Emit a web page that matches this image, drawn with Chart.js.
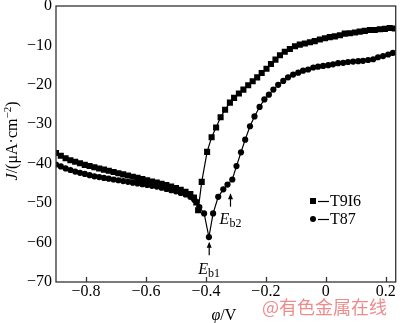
<!DOCTYPE html>
<html>
<head>
<meta charset="utf-8">
<script src="https://cdn.jsdelivr.net/npm/chart.js@4"></script>
<style>
  body { margin: 0; background: #fff; }
</style>
</head>
<body>
<canvas id="chart" width="400" height="323"></canvas>
<script>
const xTicks = [-0.8, -0.6, -0.4, -0.2, 0, 0.2];
const yTicks = [0, -10, -20, -30, -40, -50, -60, -70];

// polarisation curve of T9I6 (phi in V, J in uA/cm2)
const t9i6Phi = [
  -0.900, -0.884, -0.868, -0.852, -0.836, -0.820, -0.804, -0.788, -0.772, -0.756,
  -0.740, -0.724, -0.708, -0.692, -0.676, -0.660, -0.644, -0.628, -0.612, -0.596,
  -0.580, -0.564, -0.548, -0.532, -0.516, -0.500, -0.484, -0.468, -0.452, -0.440,
  -0.432, -0.426, -0.414, -0.396, -0.381, -0.366, -0.351, -0.336, -0.320, -0.306,
  -0.290, -0.275, -0.259, -0.244, -0.229, -0.214, -0.198, -0.183, -0.168, -0.153,
  -0.137, -0.120, -0.103, -0.087, -0.070, -0.053, -0.037, -0.020, -0.003, 0.013,
  0.030, 0.047, 0.063, 0.080, 0.097, 0.113, 0.130, 0.147, 0.163, 0.180,
  0.197, 0.213, 0.230
];
const t9i6J = [
  -37.3, -38.0, -38.6, -39.1, -39.5, -39.9, -40.3, -40.6, -40.9, -41.2,
  -41.5, -41.8, -42.1, -42.4, -42.7, -43.0, -43.3, -43.6, -43.9, -44.2,
  -44.5, -44.8, -45.1, -45.4, -45.8, -46.2, -46.6, -47.1, -47.7, -48.6,
  -49.8, -51.8, -44.6, -37.0, -33.3, -30.8, -28.2, -26.3, -24.5, -23.3,
  -22.2, -21.2, -20.1, -19.1, -18.1, -17.0, -15.9, -14.7, -13.6, -12.5,
  -11.6, -10.9, -10.2, -9.8, -9.5, -9.2, -8.9, -8.5, -8.2, -7.9,
  -7.7, -7.4, -7.0, -6.9, -6.7, -6.5, -6.3, -6.1, -6.1, -5.9,
  -5.8, -5.6, -5.7
];

// polarisation curve of T87
const t87Phi = [
  -0.900, -0.884, -0.868, -0.852, -0.836, -0.820, -0.804, -0.788, -0.772, -0.756,
  -0.740, -0.724, -0.708, -0.692, -0.676, -0.660, -0.644, -0.628, -0.612, -0.596,
  -0.580, -0.564, -0.548, -0.532, -0.516, -0.500, -0.484, -0.468, -0.452, -0.438,
  -0.422, -0.406, -0.390, -0.376, -0.359, -0.342, -0.328, -0.312, -0.298, -0.283,
  -0.269, -0.253, -0.238, -0.221, -0.205, -0.190, -0.175, -0.159, -0.142, -0.126,
  -0.109, -0.092, -0.076, -0.059, -0.042, -0.026, -0.009, 0.008, 0.024, 0.041,
  0.058, 0.074, 0.091, 0.108, 0.124, 0.141, 0.158, 0.174, 0.191, 0.208,
  0.224
];
const t87J = [
  -40.2, -40.7, -41.2, -41.6, -42.0, -42.3, -42.6, -42.9, -43.2, -43.4,
  -43.6, -43.8, -44.0, -44.2, -44.4, -44.6, -44.8, -45.0, -45.2, -45.4,
  -45.6, -45.8, -46.1, -46.4, -46.7, -47.0, -47.4, -47.8, -48.4, -49.2,
  -51.0, -52.6, -58.6, -52.6, -48.4, -46.5, -45.3, -44.0, -40.6, -37.1,
  -33.9, -30.5, -28.0, -25.6, -23.7, -22.5, -21.2, -20.0, -19.0, -18.1,
  -17.4, -16.9, -16.4, -16.1, -15.6, -15.4, -15.2, -15.0, -14.8, -14.5,
  -14.4, -14.2, -14.1, -14.0, -13.9, -13.7, -13.5, -13.0, -12.7, -12.3,
  -11.9
];

// breakdown potentials Eb1 / Eb2: arrow x, arrow tip, arrow tail, label baseline
const ebNames = ['b1', 'b2'];
const ebPhi = [-0.389, -0.318];
const ebTipJ = [-59.8, -47.5];
const ebTailJ = [-63.2, -50.9];
const ebTextJ = [-68.0, -55.2];

const serif = "'Liberation Serif', 'Times New Roman', serif";
const pts = (xs, ys) => xs.map((v, i) => ({ x: v, y: ys[i] }));
const minus = s => s.replace('-', '\u2212');

function drawArrow(ctx, px, y0, y1) {
  ctx.beginPath();
  ctx.moveTo(px, y1);
  ctx.lineTo(px, y0 + 5);
  ctx.stroke();
  ctx.beginPath();
  ctx.moveTo(px, y0);
  ctx.lineTo(px - 2.5, y0 + 6);
  ctx.lineTo(px + 2.5, y0 + 6);
  ctx.closePath();
  ctx.fill();
}

// E with subscript, centred on cx
function drawE(ctx, sub, cx, base) {
  ctx.font = 'italic 16px ' + serif;
  const wE = ctx.measureText('E').width;
  ctx.font = '12px ' + serif;
  const wS = ctx.measureText(sub).width;
  const left = cx - (wE + wS) / 2;
  ctx.textAlign = 'left';
  ctx.textBaseline = 'alphabetic';
  ctx.font = 'italic 16px ' + serif;
  ctx.fillText('E', left, base);
  ctx.font = '12px ' + serif;
  ctx.fillText(sub, left + wE, base + 3);
}

const decor = {
  id: 'decor',
  afterDraw(chart) {
    const { ctx, chartArea: a, scales: { x, y } } = chart;
    ctx.save();
    ctx.strokeStyle = '#333';
    ctx.fillStyle = '#000';
    ctx.lineWidth = 1.3;
    ctx.strokeRect(a.left, a.top, a.right - a.left, a.bottom - a.top);

    // inward ticks on the potential axis
    xTicks.forEach(v => {
      const px = Math.round(x.getPixelForValue(v)) + 0.5;
      ctx.beginPath();
      ctx.moveTo(px, a.bottom);
      ctx.lineTo(px, a.bottom - 5);
      ctx.stroke();
    });

    // breakdown arrows and labels
    ctx.strokeStyle = '#000';
    ctx.lineWidth = 1.2;
    ebNames.forEach((n, i) => {
      const px = x.getPixelForValue(ebPhi[i]);
      drawArrow(ctx, px, y.getPixelForValue(ebTipJ[i]), y.getPixelForValue(ebTailJ[i]));
      drawE(ctx, n, px, y.getPixelForValue(ebTextJ[i]));
    });

    // legend
    const lx = 313, rows = [201, 219], names = ['T9I6', 'T87'];
    rows.forEach((ry, i) => {
      ctx.fillStyle = '#000';
      if (i === 0) {
        ctx.fillRect(lx - 3, ry - 3, 6, 6);
      } else {
        ctx.beginPath();
        ctx.arc(lx, ry, 3, 0, Math.PI * 2);
        ctx.fill();
      }
      ctx.beginPath();
      ctx.moveTo(lx + 5, ry + 0.5);
      ctx.lineTo(lx + 16, ry + 0.5);
      ctx.stroke();
      ctx.font = '16px ' + serif;
      ctx.textAlign = 'left';
      ctx.textBaseline = 'middle';
      ctx.fillText(names[i], lx + 17, ry + 1);
    });

    // axis titles
    ctx.textBaseline = 'alphabetic';
    ctx.font = 'italic 16px ' + serif;
    const wPhi = ctx.measureText('\u03c6').width;
    ctx.font = '16px ' + serif;
    const wV = ctx.measureText('/V').width;
    const tx = (a.left + a.right) / 2 - (wPhi + wV) / 2 - 2;
    ctx.font = 'italic 16px ' + serif;
    ctx.fillText('\u03c6', tx, 320);
    ctx.font = '16px ' + serif;
    ctx.fillText('/V', tx + wPhi, 320);

    const parts = [
      ['J', 'italic 16px ', 0],
      ['/(\u03bcA\u00b7cm', '16px ', 0],
      ['\u22122', '11px ', -6],
      [')', '16px ', 0]
    ];
    let total = 0;
    parts.forEach(p => { ctx.font = p[1] + serif; total += ctx.measureText(p[0]).width; });
    ctx.translate(17, 141);
    ctx.rotate(-Math.PI / 2);
    let cx = -total / 2;
    parts.forEach(p => {
      ctx.font = p[1] + serif;
      ctx.fillText(p[0], cx, p[2]);
      cx += ctx.measureText(p[0]).width;
    });
    ctx.setTransform(1, 0, 0, 1, 0, 0);

    // site mark
    ctx.font = "18px 'Noto Sans CJK SC', sans-serif";
    ctx.fillStyle = 'rgba(236, 128, 128, 0.9)';
    ctx.textAlign = 'left';
    ctx.fillText('@有色金属在线', 262, 314);
    ctx.restore();
  }
};

new Chart(document.getElementById('chart').getContext('2d'), {
  type: 'line',
  data: {
    datasets: [
      {
        label: 'T9I6',
        data: pts(t9i6Phi, t9i6J),
        borderColor: '#000',
        backgroundColor: '#000',
        borderWidth: 1.2,
        pointStyle: 'rect',
        pointRadius: 4.3,
        pointBorderWidth: 0,
        tension: 0
      },
      {
        label: 'T87',
        data: pts(t87Phi, t87J),
        borderColor: '#000',
        backgroundColor: '#000',
        borderWidth: 1.2,
        pointStyle: 'circle',
        pointRadius: 3.1,
        pointBorderWidth: 0,
        tension: 0
      }
    ]
  },
  options: {
    responsive: false,
    animation: false,
    devicePixelRatio: 1,
    layout: { padding: { top: 6, right: 3, left: 0, bottom: 0 } },
    plugins: { legend: { display: false }, tooltip: { enabled: false } },
    scales: {
      x: {
        type: 'linear',
        min: -0.9,
        max: 0.233,
        grid: { display: false, drawTicks: false },
        border: { display: false },
        afterBuildTicks: s => { s.ticks = xTicks.map(v => ({ value: v })); },
        afterFit: s => { s.height = 41; s.paddingLeft = 0; s.paddingRight = 0; },
        ticks: {
          padding: 0,
          color: '#000',
          font: { family: serif, size: 16 },
          maxRotation: 0,
          callback: v => v === 0 ? '0' : minus(v.toFixed(1))
        }
      },
      y: {
        min: -70,
        max: 0,
        grid: { display: false, drawTicks: false },
        border: { display: false },
        afterBuildTicks: s => { s.ticks = yTicks.map(v => ({ value: v })); },
        afterFit: s => { s.width = 56; s.paddingTop = 0; s.paddingBottom = 0; },
        ticks: {
          padding: 4,
          color: '#000',
          font: { family: serif, size: 16 },
          callback: v => minus(String(v))
        }
      }
    }
  },
  plugins: [decor]
});
</script>
</body>
</html>
